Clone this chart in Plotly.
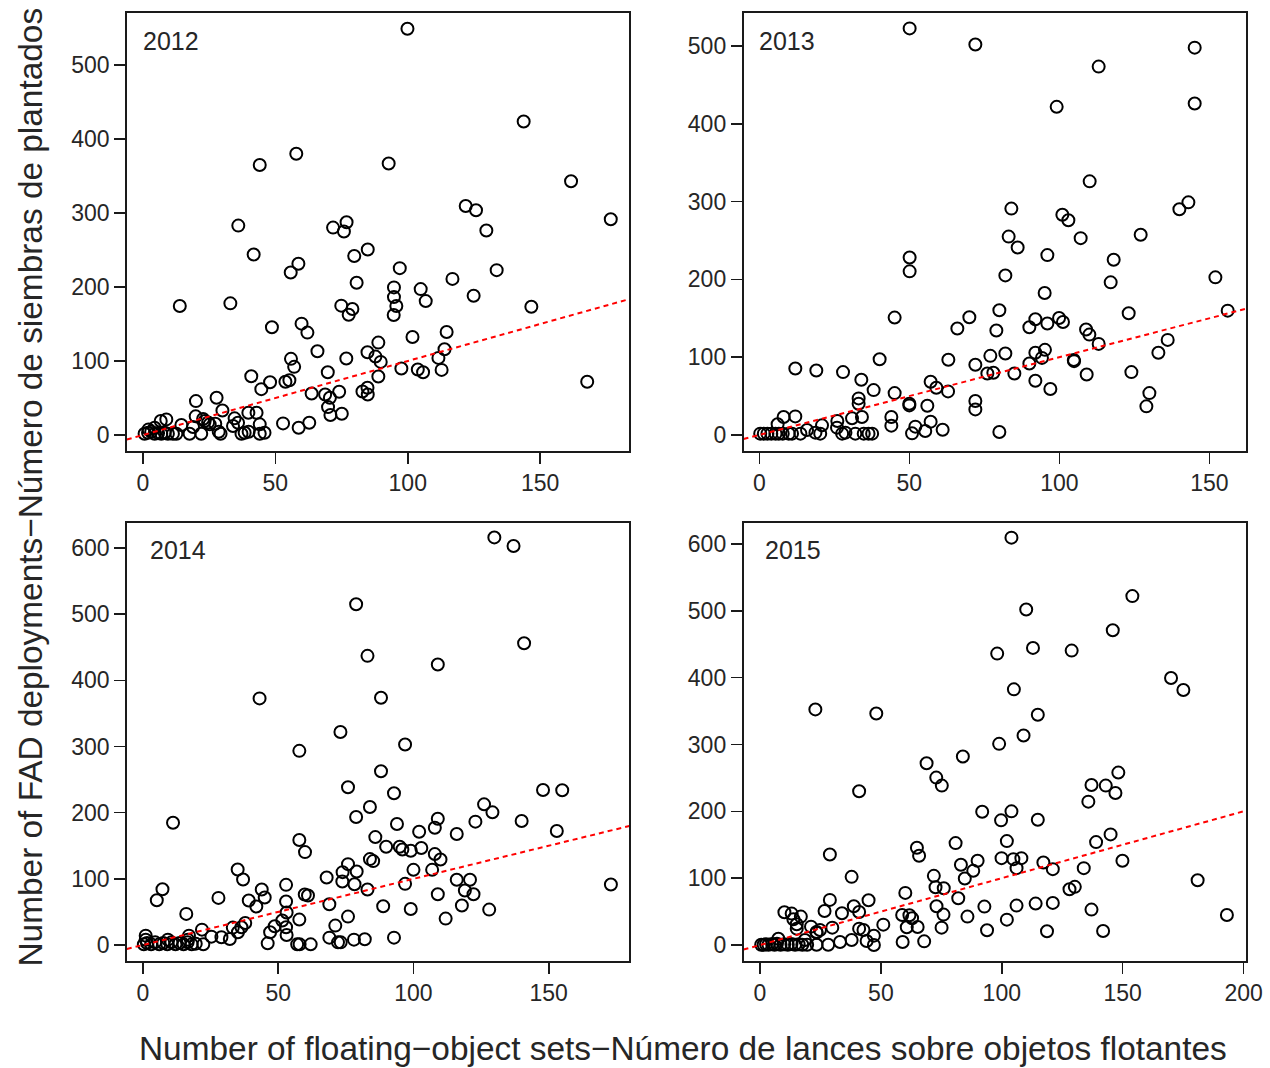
import plotly.graph_objects as go

# ---------------- data ----------------
years = ["2012", "2013", "2014", "2015"]

x_2012 = [99.9, 143.8, 44.1, 57.9, 92.8, 161.7, 176.7, 36.0, 121.9, 125.8, 129.7, 71.8, 75.9, 76.9, 84.9,
          41.8, 79.8, 58.7, 55.8, 97.0, 133.6, 116.9, 80.7, 94.8, 104.9, 124.9, 94.8, 106.8, 95.7, 13.9,
          33.0, 146.7, 74.9, 79.1, 77.7, 94.7, 48.7, 59.9, 62.1, 114.7, 101.8, 88.9, 113.9, 65.9, 111.6,
          84.8, 87.8, 89.8, 76.8, 55.9, 57.1, 97.6, 103.8, 105.8, 112.8, 69.8, 88.9, 167.8, 40.9, 48.0,
          44.7, 53.8, 55.3, 63.7, 68.8, 74.1, 70.6, 82.9, 84.8, 84.9, 69.9, 70.8, 75.1, 20.0, 27.8,
          30.0, 19.9, 39.8, 42.9, 52.9, 58.8, 62.8, 8.8, 6.7, 14.5, 18.9, 23.3, 25.2, 27.3, 34.6,
          35.9, 34.0, 44.1, 17.6, 22.0, 28.6, 29.3, 37.2, 38.4, 39.9, 44.1, 45.9, 22.7, 24.6,
          0.6, 1.9, 3.1, 4.4, 5.7, 6.9, 8.2, 9.4, 11.3, 12.6, 2.1, 4.4]
y_2012 = [549, 423.6, 364.8, 380, 367, 343, 291.6, 283, 309.5, 303.7, 276.3, 280.3, 275, 287.5, 250.7,
          244, 242, 231.4, 219.7, 225.5, 222.8, 211, 205.7, 199.5, 197.2, 188.2, 186.4, 181, 174.3, 174.3,
          177.9, 173.4, 174.8, 170.3, 162.6, 162.2, 145.6, 150.5, 138.4, 139.3, 132.5, 124.9, 115.9, 113.2, 104.2,
          111.9, 106, 98.8, 103.3, 102.9, 92.1, 89.8, 88.5, 84.9, 88, 84.9, 79.1, 71.9, 79.5, 71.4,
          62, 71.9, 74.1, 56.2, 54.8, 58.4, 50.3, 58.8, 63.8, 54.8, 37.7, 27, 28.8, 45.8, 50.3,
          33.2, 25.2, 30.1, 30.1, 15.7, 9.9, 16.6, 21.1, 18.9, 13.5, 10.8, 18.9, 14.4, 15.3, 22.5,
          16.6, 12.1, 14.4, 1.8, 1.8, 4.5, 1.8, 1.8, 3.1, 4.5, 1.8, 3.1, 21.6, 17.0,
          1.8, 3.1, 4.5, 1.8, 2.7, 1.8, 3.1, 1.8, 1.8, 1.8, 7.6, 9.9]

x_2013 = [50.1, 72.0, 145.1, 113.1, 145.1, 99.1, 110.1, 84.0, 143.0, 140.0, 101.0, 103.0, 107.1, 127.1, 83.1,
          86.1, 96.0, 50.1, 50.1, 118.1, 82.0, 117.1, 152.0, 95.1, 80.0, 156.1, 123.1, 45.1, 70.0, 92.0,
          99.9, 101.2, 96.0, 90.0, 66.0, 79.0, 108.9, 110.0, 113.1, 136.1, 133.0, 95.2, 92.0, 94.2, 104.9,
          104.8, 82.0, 77.0, 63.0, 72.0, 90.0, 40.1, 12.0, 19.0, 27.9, 34.0, 38.1, 76.0, 78.0, 85.0,
          92.0, 97.0, 109.1, 124.0, 130.0, 129.0, 57.1, 59.0, 62.9, 45.1, 33.1, 33.1, 50.0, 50.0, 56.0,
          72.0, 72.0, 80.0, 12.0, 8.1, 6.1, 26.0, 30.9, 34.2, 44.0, 44.0, 20.9, 15.9, 25.9, 52.0,
          57.1, 55.3, 50.9, 61.1, 18.7, 20.3, 27.6, 28.7, 32.0, 34.8, 36.4, 37.6, 13.7, 10.9,
          0.3, 1.5, 2.7, 4.0, 5.4, 6.5, 7.8, 9.8]
y_2013 = [522.6, 502, 497.9, 473.5, 426, 421.8, 326, 291, 299, 290.2, 283, 276, 253, 257.3, 255,
          241, 231.2, 228.2, 210.3, 225.2, 205.1, 196.2, 202.6, 182.5, 160.3, 159.8, 156.4, 150.9, 151.3, 148.7,
          150.4, 145.3, 143.2, 138.5, 136.8, 134.2, 135.5, 129, 117.1, 122.2, 105.6, 109.4, 105.6, 99.1, 94.9,
          96.5, 104.7, 101.7, 96.6, 90.2, 91.9, 97.4, 85.5, 82.9, 80.8, 70.9, 57.7, 79.1, 79.9, 79.1,
          69.7, 59, 77.8, 80.8, 53.8, 36.8, 68.4, 60.7, 56, 53.8, 47, 40.2, 40.2, 38, 37.6,
          43.6, 32.9, 3.8, 23.9, 23.1, 13.7, 17.9, 21.4, 23.1, 23.1, 12, 12.4, 6.4, 9.4, 10.7,
          17.1, 5.1, 2.1, 6.8, 3, 1.7, 1.7, 3, 1.7, 1.7, 1.7, 1.7, 1.7, 1.7,
          1.7, 1.7, 1.7, 1.7, 1.7, 1.7, 1.7, 1.7]

x_2014 = [129.9, 137.0, 78.8, 140.9, 83.0, 109.0, 43.1, 88.0, 73.0, 57.8, 96.9, 88.0, 75.8, 92.8, 147.9,
          155.0, 83.9, 78.8, 126.1, 129.2, 122.9, 140.0, 11.1, 109.0, 93.9, 107.9, 102.1, 116.0, 153.0, 85.9,
          57.8, 59.9, 89.9, 94.9, 95.9, 99.0, 102.9, 107.9, 110.0, 83.9, 85.1, 75.8, 73.8, 79.0, 100.0,
          106.9, 35.0, 37.0, 67.9, 73.7, 78.2, 96.9, 116.0, 120.9, 119.0, 122.2, 109.0, 173.0, 83.0, 7.2,
          5.1, 27.9, 43.9, 45.0, 39.1, 41.9, 52.9, 52.9, 59.8, 61.0, 68.9, 88.8, 99.0, 117.9, 128.0,
          111.9, 16.0, 53.1, 57.8, 75.8, 71.1, 37.8, 36.4, 33.2, 35.1, 21.8, 48.7, 51.5, 52.9, 53.1,
          47.0, 46.1, 29.0, 32.1, 25.3, 17.0, 57.0, 57.9, 62.0, 68.9, 72.1, 73.1, 78.0, 82.0, 92.8,
          22.3, 1.0, 1.0, 0.3, 1.5, 3.0, 4.5, 6.0, 7.5, 9.0, 10.5, 12.0, 13.5, 15.0, 16.5,
          18.0, 19.5, 9.2, 16.6]
y_2014 = [616, 603, 515, 456, 437, 424, 372.7, 373.7, 322, 293.4, 303, 262.6, 238.4, 229.3, 234.3,
          233.8, 208.6, 193.4, 212.6, 200.5, 186.4, 187.4, 184.8, 190.9, 182.8, 177.3, 171.2, 167.7, 172.2, 163.1,
          158.6, 140.4, 148.5, 148.5, 144.4, 142.4, 146.5, 137.4, 129.3, 129.8, 126.8, 122.2, 110.1, 111.1, 113.6,
          113.6, 114.1, 99, 102, 96, 91.9, 92.4, 98.5, 98.5, 82.3, 76.8, 76.8, 91.4, 83.8, 84.3,
          67.7, 71.2, 83.8, 71.7, 67.2, 58.1, 90.9, 65.7, 76.3, 74.7, 61.6, 58.6, 54.5, 59.6, 53.5,
          39.9, 47, 49, 38.4, 42.9, 29.3, 33.3, 26.8, 26.3, 19.2, 23.2, 28.3, 36.9, 26.8, 15.2,
          19.2, 2.5, 11.6, 9.1, 12.6, 14.1, 1, 1, 1, 11.1, 4, 4, 8.1, 8.6, 11.1,
          1, 14.1, 8, 1, 3, 1, 4, 1, 3, 1, 4, 1, 3, 1, 4,
          1, 2, 8.1, 8.1]

x_2015 = [104.0, 154.0, 110.1, 145.9, 112.9, 98.1, 128.9, 170.0, 175.1, 105.0, 22.9, 48.1, 114.9, 109.0, 98.9,
          83.9, 68.9, 72.9, 75.2, 41.0, 148.2, 137.1, 143.0, 147.0, 135.8, 91.9, 104.0, 99.7, 114.9, 145.0,
          139.0, 28.9, 64.9, 65.8, 80.9, 102.1, 99.9, 104.8, 108.1, 106.1, 117.2, 121.1, 83.1, 90.0, 88.2,
          84.7, 71.9, 149.9, 133.9, 37.9, 181.0, 72.6, 76.0, 128.0, 130.2, 60.1, 82.0, 28.9, 44.9, 26.7,
          33.9, 38.8, 41.0, 10.1, 13.1, 16.9, 13.8, 15.2, 15.2, 21.1, 23.4, 24.8, 29.9, 73.0, 92.8,
          106.1, 114.0, 121.1, 137.1, 193.1, 58.8, 61.8, 62.9, 75.9, 85.8, 102.1, 60.7, 65.2, 75.1, 93.9,
          118.7, 141.9, 51.0, 41.0, 42.8, 47.1, 44.1, 47.1, 37.9, 33.1, 59.0, 67.9, 28.2, 23.4, 23.4,
          7.6, 18.6, 0.5, 1.5, 2.5, 3.5, 5.0, 6.0, 7.0, 8.5, 10.0, 11.5, 13.0, 14.5, 16.0,
          17.5, 19.5]
y_2015 = [609.5, 522, 502, 471, 444.5, 436, 440.5, 399.5, 381.5, 382.5, 352.5, 346.5, 344.5, 313.5, 301,
          282, 272, 250.5, 238.5, 230, 258, 239.5, 238.5, 227.5, 214.5, 199.5, 200, 186.5, 187.5, 165.5,
          154, 135.5, 145.5, 133.5, 152.5, 155.5, 130, 128.5, 130, 115, 123.5, 113.5, 120, 126, 111,
          99.5, 103.5, 126, 115, 102, 97, 86.5, 85, 83.5, 87, 78, 70, 67.5, 67, 51,
          47.5, 58, 49.5, 49, 47, 42.5, 38.5, 31, 24.5, 27.5, 19.5, 22.5, 26, 58, 57.5,
          59, 62, 63, 53, 45, 45, 44.5, 40, 45.5, 42.5, 38, 26.5, 27, 26, 22,
          20.5, 21, 30.5, 24.5, 22.5, 14, 6, 0, 7.5, 4.5, 4.5, 5.5, 0.5, 0.5, 18.5,
          9.5, 7.5, 0.5, 0.5, 1, 0.5, 1.5, 0.5, 2, 0.5, 1, 0.5, 1.5, 0.5, 1,
          0.5, 0.5]

xs = [x_2012, x_2013, x_2014, x_2015]
ys = [y_2012, y_2013, y_2014, y_2015]

x_ticks = [[0, 50, 100, 150], [0, 50, 100, 150], [0, 50, 100, 150], [0, 50, 100, 150, 200]]
y_ticks = [[0, 100, 200, 300, 400, 500], [0, 100, 200, 300, 400, 500],
           [0, 100, 200, 300, 400, 500, 600], [0, 100, 200, 300, 400, 500, 600]]

# 1:1 reference line (y = x)
ref_slope = 1.0
ref_intercept = 0.0

x_title = "Number of floating\u2212object sets\u2212Número de lances sobre objetos flotantes"
y_title = "Number of FAD deployments\u2212Número de siembras de plantados"

# ---------------- layout (pixel geometry of the page) ----------------
W, H = 1270, 1068
col_px = [(126.8, 629.3), (743.5, 1246.0)]
row_px = [(12.7, 451.0), (523.0, 961.0)]
x_ranges = [[-6.12, 183.7], [-5.27, 162.2], [-5.99, 179.8], [-6.82, 201.0]]
y_ranges = [[-21.6, 570.7], [-20.6, 542.8], [-24.2, 637.8], [-23.9, 631.4]]
label_px = [(141, 41), (757, 41), (147.5, 550), (763.5, 550)]

FONT = "Liberation Sans, Arial, Helvetica, sans-serif"
TXT = "#262626"
LINE = "#1a1a1a"

fig = go.Figure()
layout = dict(width=W, height=H, margin=dict(l=0, r=0, t=0, b=0),
              paper_bgcolor="white", plot_bgcolor="white", showlegend=False,
              font=dict(family=FONT, color=TXT), hovermode=False)
annotations = []

for i in range(4):
    r, c = divmod(i, 2)
    ax = "" if i == 0 else str(i + 1)
    xa, ya = "x" + ax, "y" + ax
    x0, x1 = col_px[c]
    yt, yb = row_px[r]
    common = dict(showline=True, mirror=True, linecolor=LINE, linewidth=1.7,
                  ticks="outside", ticklen=11, tickwidth=1.6, tickcolor=LINE,
                  showgrid=False, zeroline=False, automargin=False,
                  tickfont=dict(family=FONT, size=23, color=TXT))
    layout["xaxis" + ax] = dict(common, domain=[x0 / W, x1 / W], range=x_ranges[i],
                                tickvals=x_ticks[i], anchor=ya)
    layout["yaxis" + ax] = dict(common, domain=[1 - yb / H, 1 - yt / H], range=y_ranges[i],
                                tickvals=y_ticks[i], anchor=xa)

    fig.add_trace(go.Scatter(x=xs[i], y=ys[i], mode="markers", xaxis=xa, yaxis=ya,
                             marker=dict(symbol="circle-open", size=12,
                                         color="black", line=dict(width=2, color="black")),
                             hoverinfo="skip"))
    lx = x_ranges[i]
    fig.add_trace(go.Scatter(x=lx, y=[ref_intercept + ref_slope * v for v in lx],
                             mode="lines", xaxis=xa, yaxis=ya,
                             line=dict(color="red", width=2, dash="5px,4px"),
                             hoverinfo="skip"))
    px, py = label_px[i]
    annotations.append(dict(text=years[i], xref="paper", yref="paper", x=px / W, y=1 - py / H,
                            xanchor="left", yanchor="middle", showarrow=False,
                            font=dict(family=FONT, size=25, color=TXT)))

annotations.append(dict(text=x_title, xref="paper", yref="paper", x=683 / W, y=1 - 1048 / H,
                        xanchor="center", yanchor="middle", showarrow=False,
                        font=dict(family=FONT, size=33.4, color=TXT)))
annotations.append(dict(text=y_title, xref="paper", yref="paper", x=30 / W, y=1 - 487.5 / H,
                        xanchor="center", yanchor="middle", showarrow=False, textangle=-90,
                        font=dict(family=FONT, size=33.4, color=TXT)))
layout["annotations"] = annotations
fig.update_layout(**layout)
fig.write_html("out.html", config={"displayModeBar": False, "staticPlot": True},
               post_script="document.body.style.margin='0';document.body.style.overflow='hidden';")
